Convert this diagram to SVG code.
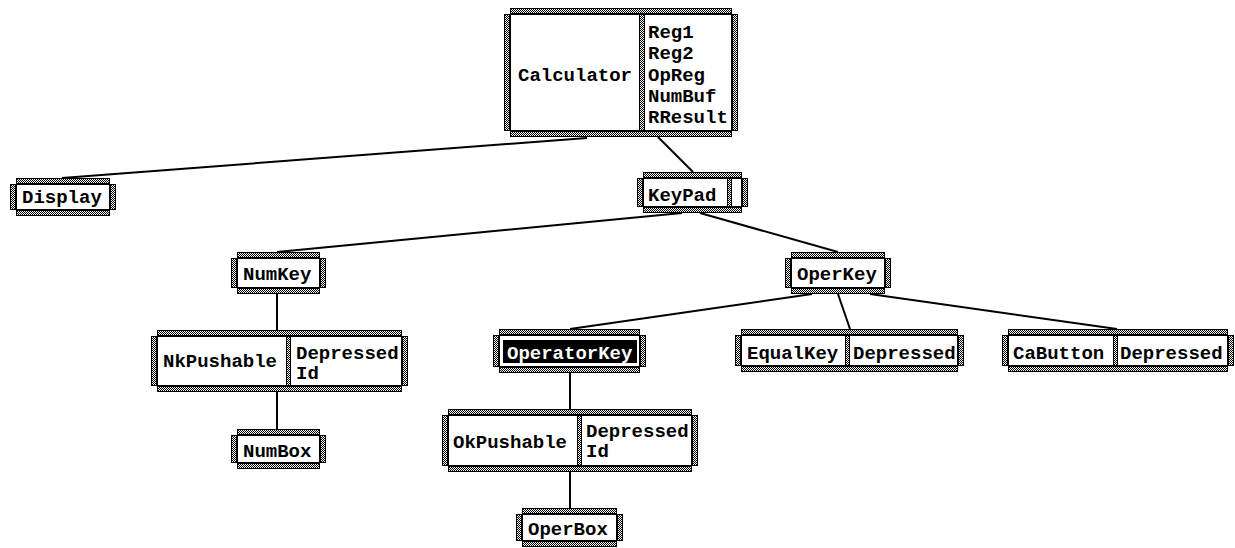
<svg xmlns="http://www.w3.org/2000/svg" width="1235" height="548" viewBox="0 0 1235 548">
  <defs>
    <!-- 50% checkerboard stipple used for frame bands and dividers -->
    <pattern id="stip" width="2" height="2" patternUnits="userSpaceOnUse">
      <rect width="2" height="2" fill="#fff"/>
      <rect x="0" y="0" width="1" height="1" fill="#000"/>
      <rect x="1" y="1" width="1" height="1" fill="#000"/>
    </pattern>
  </defs>
  <style>
    .band { fill: url(#stip); stroke: #000; stroke-width: 1; }
    .face { fill: #fff; stroke: #000; stroke-width: 1; }
    .sel { fill: #000; }
    .lbl { font-family: "Liberation Mono", "DejaVu Sans Mono", monospace; font-weight: bold; font-size: 19px; fill: #000; }
    .inv { fill: #fff; }
    .wire { stroke: #000; stroke-width: 2; fill: none; }
  </style>
  <rect width="1235" height="548" fill="#fff"/>

  <!-- connectors -->
  <g id="connectors">
    <line class="wire" x1="587" y1="138" x2="62" y2="178"/>
    <line class="wire" x1="658" y1="137" x2="693" y2="172"/>
    <line class="wire" x1="682" y1="213" x2="277" y2="252"/>
    <line class="wire" x1="700" y1="213" x2="838" y2="252"/>
    <line class="wire" x1="277" y1="294" x2="277" y2="330"/>
    <line class="wire" x1="277" y1="392" x2="277" y2="429"/>
    <line class="wire" x1="812" y1="294" x2="570" y2="329"/>
    <line class="wire" x1="838" y1="294" x2="850" y2="329"/>
    <line class="wire" x1="870" y1="294" x2="1117" y2="329"/>
    <line class="wire" x1="570" y1="373" x2="570" y2="409"/>
    <line class="wire" x1="570" y1="472" x2="570" y2="508"/>
  </g>

  <!-- Calculator -->
  <g id="calculator">
    <rect class="band" x="510.5" y="8.5" width="221" height="5"/>
    <rect class="band" x="510.5" y="131.5" width="221" height="5"/>
    <rect class="band" x="504.5" y="14.5" width="5" height="116"/>
    <rect class="band" x="732.5" y="14.5" width="5" height="116"/>
    <rect class="face" x="510.5" y="14.5" width="221" height="116"/>
    <rect class="band" x="639.5" y="14.5" width="5" height="116"/>
    <text class="lbl" x="518" y="81">Calculator</text>
    <text class="lbl" x="648" y="38">Reg1</text>
    <text class="lbl" x="648" y="59">Reg2</text>
    <text class="lbl" x="648" y="81">OpReg</text>
    <text class="lbl" x="648" y="102">NumBuf</text>
    <text class="lbl" x="648" y="123">RResult</text>
  </g>

  <!-- Display -->
  <g id="display">
    <rect class="band" x="16.5" y="178.5" width="93" height="5"/>
    <rect class="band" x="16.5" y="210.5" width="93" height="5"/>
    <rect class="band" x="10.5" y="184.5" width="5" height="25"/>
    <rect class="band" x="110.5" y="184.5" width="5" height="25"/>
    <rect class="face" x="16.5" y="184.5" width="93" height="25"/>
    <text class="lbl" x="22" y="203">Display</text>
  </g>

  <!-- KeyPad -->
  <g id="keypad">
    <rect class="band" x="643.5" y="172.5" width="98" height="5"/>
    <rect class="band" x="643.5" y="207.5" width="98" height="5"/>
    <rect class="band" x="637.5" y="178.5" width="5" height="28"/>
    <rect class="band" x="742.5" y="178.5" width="5" height="28"/>
    <rect class="face" x="643.5" y="178.5" width="98" height="28"/>
    <rect class="band" x="727.5" y="178.5" width="4" height="28"/>
    <text class="lbl" x="648" y="201">KeyPad</text>
  </g>

  <!-- NumKey -->
  <g id="numkey">
    <rect class="band" x="237.5" y="252.5" width="82" height="5"/>
    <rect class="band" x="237.5" y="288.5" width="82" height="5"/>
    <rect class="band" x="231.5" y="258.5" width="5" height="29"/>
    <rect class="band" x="320.5" y="258.5" width="5" height="29"/>
    <rect class="face" x="237.5" y="258.5" width="82" height="29"/>
    <text class="lbl" x="243" y="280">NumKey</text>
  </g>

  <!-- OperKey -->
  <g id="operkey">
    <rect class="band" x="791.5" y="252.5" width="93" height="5"/>
    <rect class="band" x="791.5" y="288.5" width="93" height="5"/>
    <rect class="band" x="785.5" y="258.5" width="5" height="29"/>
    <rect class="band" x="885.5" y="258.5" width="5" height="29"/>
    <rect class="face" x="791.5" y="258.5" width="93" height="29"/>
    <text class="lbl" x="797" y="280">OperKey</text>
  </g>

  <!-- NkPushable -->
  <g id="nkpushable">
    <rect class="band" x="157.5" y="330.5" width="244" height="5"/>
    <rect class="band" x="157.5" y="386.5" width="244" height="5"/>
    <rect class="band" x="151.5" y="336.5" width="5" height="49"/>
    <rect class="band" x="402.5" y="336.5" width="5" height="49"/>
    <rect class="face" x="157.5" y="336.5" width="244" height="49"/>
    <rect class="band" x="286.5" y="336.5" width="4" height="49"/>
    <text class="lbl" x="163" y="367">NkPushable</text>
    <text class="lbl" x="296" y="359">Depressed</text>
    <text class="lbl" x="296" y="379">Id</text>
  </g>

  <!-- NumBox -->
  <g id="numbox">
    <rect class="band" x="237.5" y="429.5" width="82" height="5"/>
    <rect class="band" x="237.5" y="463.5" width="82" height="5"/>
    <rect class="band" x="231.5" y="435.5" width="5" height="27"/>
    <rect class="band" x="320.5" y="435.5" width="5" height="27"/>
    <rect class="face" x="237.5" y="435.5" width="82" height="27"/>
    <text class="lbl" x="243" y="457">NumBox</text>
  </g>

  <!-- OperatorKey (selected) -->
  <g id="operatorkey">
    <rect class="band" x="499.5" y="329.5" width="140" height="5"/>
    <rect class="band" x="499.5" y="367.5" width="140" height="5"/>
    <rect class="band" x="493.5" y="335.5" width="5" height="31"/>
    <rect class="band" x="640.5" y="335.5" width="5" height="31"/>
    <rect class="face" x="499.5" y="335.5" width="140" height="31"/>
    <rect class="sel" x="503" y="340" width="134" height="23"/>
    <text class="lbl inv" x="507" y="359">OperatorKey</text>
  </g>

  <!-- EqualKey -->
  <g id="equalkey">
    <rect class="band" x="741.5" y="329.5" width="216" height="5"/>
    <rect class="band" x="741.5" y="366.5" width="216" height="5"/>
    <rect class="band" x="735.5" y="335.5" width="5" height="30"/>
    <rect class="band" x="958.5" y="335.5" width="5" height="30"/>
    <rect class="face" x="741.5" y="335.5" width="216" height="30"/>
    <rect class="band" x="845.5" y="335.5" width="4" height="30"/>
    <text class="lbl" x="747" y="359">EqualKey</text>
    <text class="lbl" x="853" y="359">Depressed</text>
  </g>

  <!-- CaButton -->
  <g id="cabutton">
    <rect class="band" x="1008.5" y="329.5" width="219" height="5"/>
    <rect class="band" x="1008.5" y="366.5" width="219" height="5"/>
    <rect class="band" x="1002.5" y="335.5" width="5" height="30"/>
    <rect class="band" x="1228.5" y="335.5" width="5" height="30"/>
    <rect class="face" x="1008.5" y="335.5" width="219" height="30"/>
    <rect class="band" x="1113.5" y="335.5" width="4" height="30"/>
    <text class="lbl" x="1013" y="359">CaButton</text>
    <text class="lbl" x="1120" y="359">Depressed</text>
  </g>

  <!-- OkPushable -->
  <g id="okpushable">
    <rect class="band" x="448.5" y="409.5" width="243" height="5"/>
    <rect class="band" x="448.5" y="466.5" width="243" height="5"/>
    <rect class="band" x="442.5" y="415.5" width="5" height="50"/>
    <rect class="band" x="692.5" y="415.5" width="5" height="50"/>
    <rect class="face" x="448.5" y="415.5" width="243" height="50"/>
    <rect class="band" x="577.5" y="415.5" width="4" height="50"/>
    <text class="lbl" x="453" y="448">OkPushable</text>
    <text class="lbl" x="586" y="437">Depressed</text>
    <text class="lbl" x="586" y="457">Id</text>
  </g>

  <!-- OperBox -->
  <g id="operbox">
    <rect class="band" x="522.5" y="508.5" width="94" height="5"/>
    <rect class="band" x="522.5" y="541.5" width="94" height="5"/>
    <rect class="band" x="516.5" y="514.5" width="5" height="26"/>
    <rect class="band" x="617.5" y="514.5" width="5" height="26"/>
    <rect class="face" x="522.5" y="514.5" width="94" height="26"/>
    <text class="lbl" x="528" y="535">OperBox</text>
  </g>
</svg>
